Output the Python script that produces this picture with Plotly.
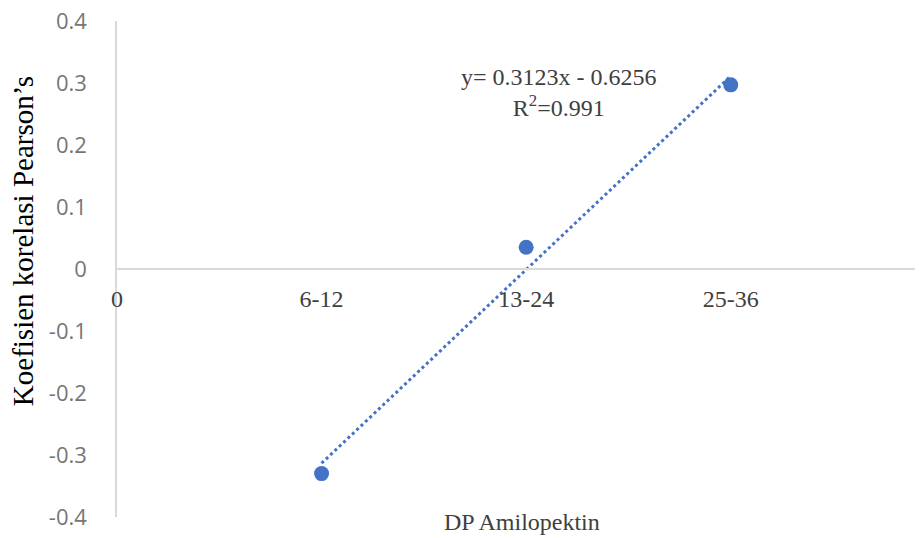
import plotly.graph_objects as go

categories = ["6-12", "13-24", "25-36"]
x_pos = [1, 2, 3]
values = [-0.33, 0.035, 0.297]
x_ticks = [0, 1, 2, 3]
x_ticktext = ["0", "6-12", "13-24", "25-36"]
y_ticks = [-0.4, -0.3, -0.2, -0.1, 0, 0.1, 0.2, 0.3, 0.4]
y_ticktext = ["-0.4", "-0.3", "-0.2", "-0.1", "0", "0.1", "0.2", "0.3", "0.4"]
slope = 0.3123
intercept = -0.6256
r2 = 0.991

BLUE = "#4472C4"
SERIF = "Liberation Serif"

trend_x = [min(x_pos), max(x_pos)]
trend_y = [slope * x + intercept for x in trend_x]

fig = go.Figure()
fig.add_trace(go.Scatter(x=trend_x, y=trend_y, mode="lines",
                         line=dict(color=BLUE, width=3, dash="dot"),
                         hoverinfo="skip", showlegend=False))
fig.add_trace(go.Scatter(x=x_pos, y=values, mode="markers",
                         marker=dict(color=BLUE, size=15),
                         text=categories, showlegend=False))

fig.add_annotation(x=2.16, y=0.285, xref="x", yref="y",
                   text=f"y= {slope}x - {abs(intercept)}<br>R<sup>2</sup>={r2}",
                   showarrow=False, font=dict(family=SERIF, size=24, color="#404040"),
                   align="center", xanchor="center", yanchor="middle")
fig.add_annotation(x=0.5036, y=0, xref="paper", yref="paper", yanchor="middle",
                   xanchor="center",
                   yshift=-5, text="DP Amilopektin", showarrow=False,
                   font=dict(family=SERIF, size=24, color="#404040"))
fig.add_annotation(x=-0.1170, y=0.556, xref="paper", yref="paper",
                   xanchor="center", yanchor="middle",
                   text="Koefisien korelasi Pearson\u2019s", textangle=-90,
                   showarrow=False, font=dict(family=SERIF, size=29, color="#000000"))

fig.update_layout(
    width=915, height=530,
    margin=dict(l=109, r=2, t=13, b=21, autoexpand=False),
    paper_bgcolor="white", plot_bgcolor="white",
    xaxis=dict(range=[0, 3.93], tickvals=x_ticks, ticktext=x_ticktext,
               anchor="free", position=0.5, showline=True, linecolor="#d9d9d9",
               linewidth=1.5, showgrid=False, zeroline=False, ticks="",
               ticklabelstandoff=8, automargin=False,
               tickfont=dict(family=SERIF, size=24, color="#404040")),
    yaxis=dict(range=[-0.4, 0.4], tickvals=y_ticks, ticktext=y_ticktext,
               showline=True, linecolor="#d9d9d9", linewidth=1.5,
               showgrid=False, zeroline=False, ticks="", ticklabelstandoff=24,
               automargin=False, ticklabeloverflow="allow",
               tickfont=dict(family="Open Sans", size=22, color="#767676")),
)

fig.write_html("out.html")
